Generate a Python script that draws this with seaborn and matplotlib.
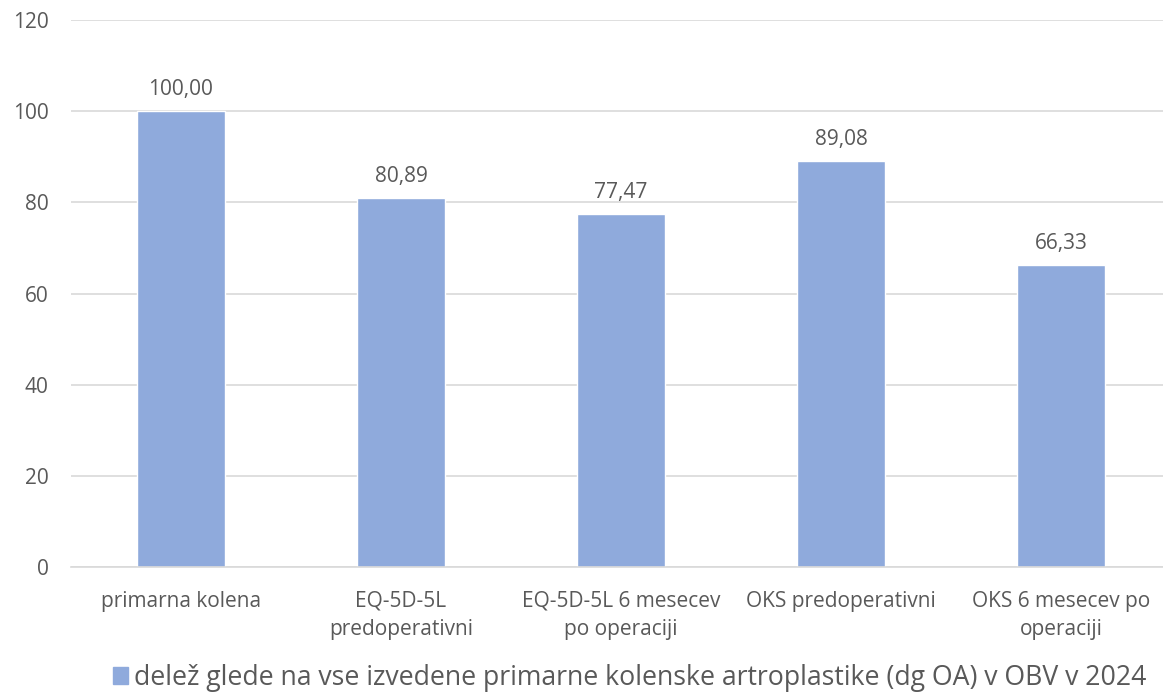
import matplotlib
matplotlib.use("Agg")
import matplotlib.pyplot as plt
import seaborn as sns
import pandas as pd
from matplotlib.patches import Patch

categories = ["primarna kolena", "EQ-5D-5L\npredoperativni", "EQ-5D-5L 6 mesecev\npo operaciji",
              "OKS predoperativni", "OKS 6 mesecev po\noperaciji"]
values = [100.00, 80.89, 77.47, 89.08, 66.33]
series_name = "delež glede na vse izvedene primarne kolenske artroplastike (dg OA) v OBV v 2024"
yticks = [0, 20, 40, 60, 80, 100, 120]

sns.set_theme(style="white")
plt.rcParams['font.family'] = ['Open Sans', 'DejaVu Sans']

bar_color = "#8FAADC"
text_color = "#595959"

df = pd.DataFrame({"cat": categories, "val": values})

fig = plt.figure(figsize=(11.63, 6.96), dpi=100)
ax = fig.add_axes([71 / 1163, 0.1853, 1100 / 1163, 0.786])
sns.barplot(data=df, x="cat", y="val", color=bar_color, width=0.4, ax=ax, saturation=1)

ax.set_ylim(0, 120)
ax.set_yticks(yticks)
ax.set_yticklabels([str(t) for t in yticks], fontsize=15, color=text_color)
ax.set_xticks(range(len(categories)))
ax.set_xticklabels(categories, fontsize=15, color=text_color, linespacing=1.45)
ax.set_xlim(-0.5, len(categories) - 0.5)
ax.set_xlabel("")
ax.set_ylabel("")
ax.yaxis.grid(True, color="#D9D9D9", linewidth=1.2)
ax.set_axisbelow(True)
for s in ["top", "right", "left"]:
    ax.spines[s].set_visible(False)
ax.spines["bottom"].set_color("#D9D9D9")
ax.spines["bottom"].set_linewidth(1.2)
ax.tick_params(axis="both", length=0)
ax.tick_params(axis="y", pad=16)
ax.tick_params(axis="x", pad=17)

for c in ax.containers:
    ax.bar_label(c, labels=[f"{v:.2f}".replace(".", ",") for v in values],
                 padding=8, fontsize=15, color=text_color)

handle = Patch(facecolor=bar_color, edgecolor=bar_color)
fig.legend([handle], [series_name], loc="center", bbox_to_anchor=(0.5417, 0.026),
           frameon=False, fontsize=19.2, handlelength=0.55, handleheight=0.55,
           handletextpad=0.25, labelcolor=text_color, borderpad=0.1)

fig.savefig("out.png", dpi=100)
